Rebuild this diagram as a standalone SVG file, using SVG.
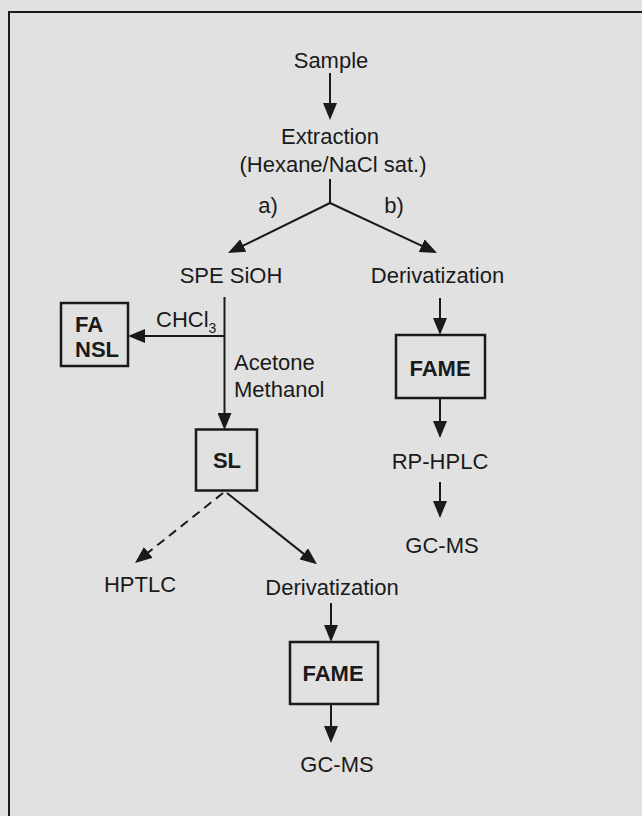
<svg xmlns="http://www.w3.org/2000/svg" width="642" height="816" viewBox="0 0 642 816">
<style>
  .t { font-family: "Liberation Sans", Arial, sans-serif; font-size: 22px; fill: #1a1a1a; }
  .b { font-weight: bold; }
  .m { text-anchor: middle; }
  .box { fill: none; stroke: #1a1a1a; stroke-width: 2.5; }
  .ln { fill: none; stroke: #1a1a1a; stroke-width: 2; }
  .dash { stroke-dasharray: 9 6; }
</style>
<defs>
  <marker id="ah" viewBox="0 0 17 14" refX="11" refY="7" markerWidth="17" markerHeight="14" markerUnits="userSpaceOnUse" orient="auto">
    <path d="M0,0 L17,7 L0,14 Z" fill="#1a1a1a"/>
  </marker>
</defs>
<rect width="642" height="816" fill="#e1e1e1"/>
<path d="M9,816 V12 H642" fill="none" stroke="#1a1a1a" stroke-width="2"/>

<g id="connectors">
  <line class="ln" x1="330" y1="73" x2="330" y2="114" marker-end="url(#ah)"/>
  <polyline class="ln" points="330,179 330,203"/>
  <line class="ln" x1="330" y1="203" x2="233.4" y2="250.4" marker-end="url(#ah)"/>
  <line class="ln" x1="330" y1="203" x2="431.6" y2="250.4" marker-end="url(#ah)"/>
  <line class="ln" x1="224.5" y1="297" x2="224.5" y2="424" marker-end="url(#ah)"/>
  <line class="ln" x1="224.5" y1="336" x2="134" y2="336" marker-end="url(#ah)"/>
  <line class="ln" x1="440" y1="298" x2="440" y2="329" marker-end="url(#ah)"/>
  <line class="ln" x1="440" y1="399" x2="440" y2="432" marker-end="url(#ah)"/>
  <line class="ln" x1="440" y1="482" x2="440" y2="512" marker-end="url(#ah)"/>
  <line class="ln dash" x1="223" y1="493" x2="139.7" y2="559.3" marker-end="url(#ah)"/>
  <line class="ln" x1="227" y1="493" x2="312.3" y2="560.6" marker-end="url(#ah)"/>
  <line class="ln" x1="331" y1="603" x2="331" y2="636" marker-end="url(#ah)"/>
  <line class="ln" x1="331" y1="705" x2="331" y2="737" marker-end="url(#ah)"/>
</g>

<g id="sample"><text class="t m" x="331" y="68">Sample</text></g>
<g id="extraction">
  <text class="t m" x="330" y="144">Extraction</text>
  <text class="t m" x="333" y="172">(Hexane/NaCl sat.)</text>
</g>
<g id="label-a"><text class="t m" x="268" y="213">a)</text></g>
<g id="label-b"><text class="t m" x="394" y="213">b)</text></g>
<g id="spe"><text class="t m" x="231" y="283">SPE SiOH</text></g>
<g id="deriv1"><text class="t m" x="437.5" y="283">Derivatization</text></g>
<g id="fa-nsl">
  <rect class="box" x="61" y="303" width="67" height="63"/>
  <text class="t b" x="75" y="332">FA</text>
  <text class="t b" x="75" y="357">NSL</text>
</g>
<g id="chcl3"><text class="t" x="156" y="327">CHCl<tspan font-size="14" dy="6">3</tspan></text></g>
<g id="acetone">
  <text class="t" x="234" y="370">Acetone</text>
  <text class="t" x="234" y="397">Methanol</text>
</g>
<g id="sl">
  <rect class="box" x="196" y="429.5" width="61" height="61"/>
  <text class="t b m" x="227" y="468">SL</text>
</g>
<g id="fame1">
  <rect class="box" x="396" y="335" width="89" height="63"/>
  <text class="t b m" x="440" y="376">FAME</text>
</g>
<g id="rphplc"><text class="t m" x="440" y="469">RP-HPLC</text></g>
<g id="gcms1"><text class="t m" x="442" y="553">GC-MS</text></g>
<g id="hptlc"><text class="t m" x="140" y="592">HPTLC</text></g>
<g id="deriv2"><text class="t m" x="332" y="595">Derivatization</text></g>
<g id="fame2">
  <rect class="box" x="290" y="642" width="88" height="62"/>
  <text class="t b m" x="333" y="681">FAME</text>
</g>
<g id="gcms2"><text class="t m" x="337" y="772">GC-MS</text></g>
</svg>
